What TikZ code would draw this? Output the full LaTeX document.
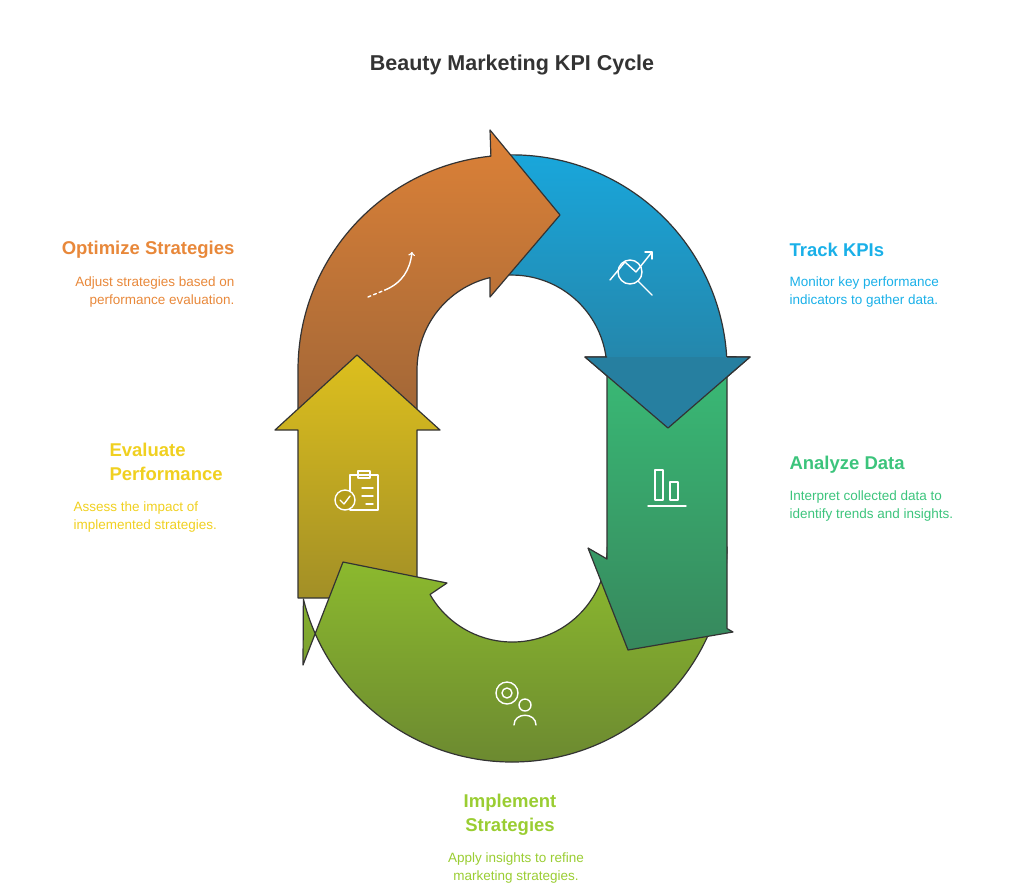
\documentclass[tikz,border=0pt]{standalone}
\usepackage{fontspec}
\setmainfont{Liberation Sans}
\begin{document}
\begin{tikzpicture}[x=1pt,y=1pt,
  seg/.style={draw=black!80,line width=1.2pt,line join=round},
  ico/.style={draw=white,line width=1.4pt,line cap=round,line join=round},
  ttl/.style={font=\bfseries\fontsize{18.5}{22}\selectfont},
  dsc/.style={font=\fontsize{13.5}{18}\selectfont}]
\useasboundingbox (0,0) rectangle (1024,-887);
\definecolor{cOr}{HTML}{E8883A}\definecolor{cBl}{HTML}{1AB0E8}
\definecolor{cGr}{HTML}{3CC47C}\definecolor{cYe}{HTML}{F0D020}
\definecolor{cLi}{HTML}{9ACD32}
% blue
\path[seg,top color=cBl!95!black,bottom color=cBl!70!black!80!gray]
  (490,-156) arc[start angle=95.9,end angle=3.5,radius=215]
  -- (750,-357) -- (668,-428) -- (585,-357) -- (606,-357)
  arc[start angle=7.9,end angle=103.4,radius=95] -- cycle;
% orange
\path[seg,top color=cOr!95!black,bottom color=cOr!72!black!85!gray]
  (298,-420) -- (298,-370) arc[start angle=180,end angle=95.9,radius=215]
  -- (490,-130) -- (560,-215) -- (490,-297) -- (490,-277.6)
  arc[start angle=103.4,end angle=180,radius=95] -- (417,-420) -- cycle;
% yellow
\path[seg,top color=cYe!92!black,bottom color=cYe!70!black!85!gray]
  (298,-598) -- (298,-430) -- (275,-430) -- (357,-355) -- (440,-430)
  -- (417,-430) -- (417,-598) -- cycle;
% bottom
\path[seg,top color=cLi!92!black,bottom color=cLi!68!black!85!gray]
  (727,-547) arc[start angle=0,end angle=-166,radius=215]
  -- (303,-665) -- (343,-562) -- (447,-583) -- (430,-594.5)
  arc[start angle=-150,end angle=0,radius=95] -- cycle;
% green
\path[seg,top color=cGr!95!black,bottom color=cGr!70!black!85!gray]
  (607,-362) -- (607,-559) -- (588,-548) -- (628,-650) -- (733,-632)
  -- (727,-628.5) -- (727,-362) -- cycle;
% blue head overlay
\fill[color=cBl!72!black!82!gray] (585,-357) -- (750,-357) -- (668,-428) -- cycle;
\draw[seg] (727,-357) -- (750,-357) -- (668,-428) -- (585,-357) -- (607,-357);
% icons
\draw[ico,dashed,dash pattern=on 3pt off 3pt] (368,-297) -- (385,-290);
\draw[ico,->] (385,-290) .. controls (402,-283) and (410,-270) .. (412,-252);
\draw[ico] (610,-280) -- (625,-262) -- (636,-272) -- (652,-252);
\draw[ico] (645,-252) -- (652,-252) -- (652,-259);
\draw[ico] (630,-272) circle[radius=12];
\draw[ico] (638,-281) -- (652,-295);
\draw[ico] (655,-470) rectangle (663,-500);
\draw[ico] (670,-482) rectangle (678,-500);
\draw[ico] (648,-506) -- (686,-506);
\draw[ico] (350,-475) rectangle (378,-510);
\draw[ico] (358,-471) rectangle (370,-478);
\draw[ico] (362,-488) -- (373,-488) (362,-496) -- (373,-496) (366,-504) -- (373,-504);
\fill[color=cYe!75!black] (345,-500) circle[radius=10];
\draw[ico] (345,-500) circle[radius=10] (340,-500) -- (344,-504) -- (350,-496);
\draw[ico] (507,-693) circle[radius=5];
\draw[ico] (507,-693) circle[radius=11];
\draw[ico] (525,-705) circle[radius=6];
\draw[ico] (514,-725) .. controls (514,-712) and (536,-712) .. (536,-725);
\node[text=black!80,font=\bfseries\fontsize{21.5}{26}\selectfont] (t) at (512,-65) {Beauty Marketing KPI Cycle};
\node[ttl,text=cBl,anchor=west] (h1) at (786,-250) {Track KPIs};
\node[dsc,text=cBl,anchor=north west,align=left] (d1) at (786,-273) {Monitor key performance\\indicators to gather data.};
\node[ttl,text=cGr,anchor=west] (h2) at (786,-465) {Analyze Data};
\node[dsc,text=cGr,anchor=north west,align=left] (d2) at (786,-487) {Interpret collected data to\\identify trends and insights.};
\node[ttl,text=cOr,anchor=east] (h3) at (238,-250) {Optimize Strategies};
\node[dsc,text=cOr,anchor=north east,align=right] (d3) at (238,-273) {Adjust strategies based on\\performance evaluation.};
\node[text=cYe,anchor=north west,align=left,font=\bfseries\fontsize{18.5}{24}\selectfont] (h4) at (106,-440) {Evaluate\\Performance};
\node[dsc,text=cYe,anchor=north west,align=left] (d4) at (70,-498) {Assess the impact of\\implemented strategies.};
\node[text=cLi,align=center,font=\bfseries\fontsize{18.5}{24}\selectfont] (h5) at (510,-815) {Implement\\Strategies};
\node[dsc,text=cLi,align=center] (d5) at (516,-868) {Apply insights to refine\\marketing strategies.};
\end{tikzpicture}
\end{document}
